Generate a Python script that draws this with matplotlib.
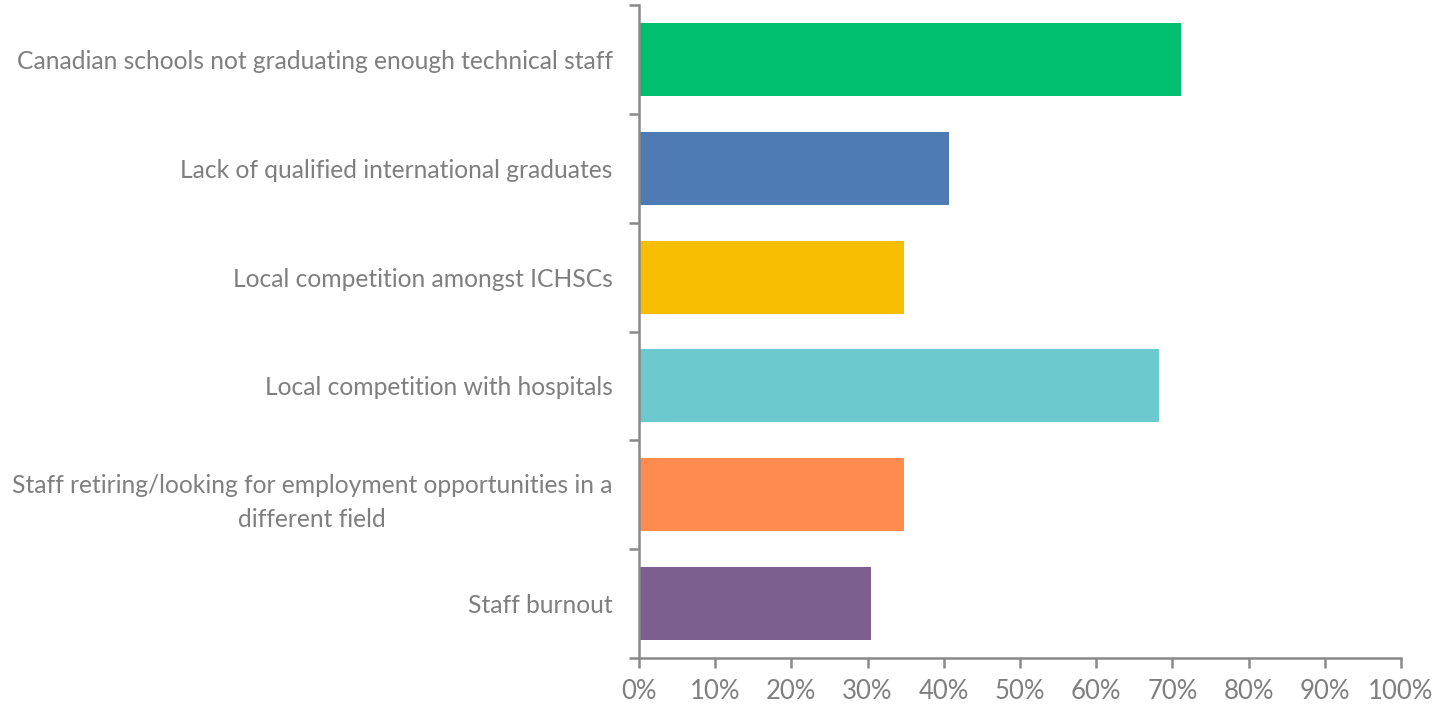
import matplotlib
matplotlib.use("Agg")
import matplotlib.pyplot as plt
from matplotlib.ticker import FixedLocator, NullFormatter, PercentFormatter

categories = [
    "Canadian schools not graduating enough technical staff",
    "Lack of qualified international graduates",
    "Local competition amongst ICHSCs",
    "Local competition with hospitals",
    "Staff retiring/looking for employment opportunities in a\ndifferent field",
    "Staff burnout",
]
values = [71.1, 40.7, 34.8, 68.2, 34.8, 30.4]
colors = ["#00BF6F", "#4E7BB4", "#F7BE00", "#6CC9CD", "#FF8B4F", "#7D5F8F"]
x_ticks = list(range(0, 101, 10))

text_color = "#7F7F7F"
axis_color = "#898989"

fig = plt.figure(figsize=(14.41, 7.06), dpi=100)
ax = fig.add_axes([639 / 1441, 1 - 658 / 706, (1401 - 639) / 1441, (658 - 5) / 706])

n = len(categories)
ypos = list(range(n))
ax.barh(ypos, values, height=0.67, color=colors)
ax.set_ylim(n - 0.5, -0.5)
ax.set_xlim(0, 100)

ax.set_yticks(ypos)
ax.set_yticklabels(categories, fontsize=17.75, color=text_color, family="Lato",
                   linespacing=1.6)
for lbl in ax.get_yticklabels():
    lbl.set_horizontalalignment("right")
    lbl.set_multialignment("center")
ax.tick_params(axis="y", which="major", length=0, pad=19)
ax.yaxis.set_minor_locator(FixedLocator([i - 0.5 for i in range(n + 1)]))
ax.yaxis.set_minor_formatter(NullFormatter())
ax.tick_params(axis="y", which="minor", length=7, width=1.8, color=axis_color, direction="out")

ax.set_xticks(x_ticks)
ax.xaxis.set_major_formatter(PercentFormatter(decimals=0))
ax.tick_params(axis="x", length=7, width=1.8, color=axis_color, labelsize=18.5,
               labelcolor=text_color, pad=8)
for lbl in ax.get_xticklabels():
    lbl.set_family("Lato")

for side in ["top", "right"]:
    ax.spines[side].set_visible(False)
for side in ["left", "bottom"]:
    ax.spines[side].set_color(axis_color)
    ax.spines[side].set_linewidth(1.8)

fig.savefig("out.png", dpi=100)
